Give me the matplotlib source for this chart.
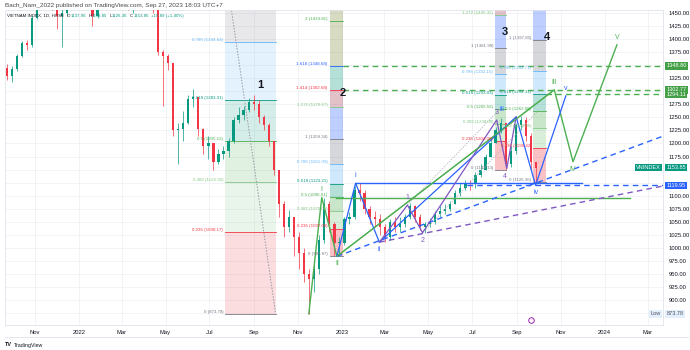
import matplotlib
matplotlib.use("Agg")
import matplotlib.pyplot as plt
import matplotlib.dates as mdates
import numpy as np
import pandas as pd
from matplotlib.patches import Rectangle
from matplotlib.lines import Line2D

plt.rcParams['font.family'] = ['Liberation Sans', 'DejaVu Sans']

# weekly bars of VN-Index, Sep 2021 - Sep 2023
week_start = pd.date_range("2021-09-20", periods=106, freq="W-MON")
first_open = 1345
close = [1330, 1342, 1368, 1392, 1388, 1440,
         1465, 1475, 1480, 1470, 1445, 1450,
         1470, 1480, 1495, 1525, 1475, 1445,
         1480, 1485, 1500, 1505, 1495, 1490,
         1470, 1480, 1495, 1500, 1505, 1458,
         1375, 1368, 1355, 1225, 1228, 1240,
         1285, 1290, 1228, 1195, 1200, 1165,
         1180, 1185, 1205, 1245, 1255, 1265,
         1280, 1275, 1250, 1235, 1205, 1150,
         1085, 1040, 1060, 1020, 990, 950,
         940, 960, 1015, 1085, 1045, 1010,
         1010, 1055, 1060, 1110, 1105, 1075,
         1060, 1055, 1040, 1020, 1050, 1040,
         1045, 1060, 1080, 1060, 1040, 1045,
         1050, 1065, 1070, 1075, 1085, 1105,
         1115, 1125, 1122, 1140, 1150, 1175,
         1200, 1225, 1240, 1160, 1185, 1235,
         1245, 1215, 1165, 1153.85]
high = [1352, 1348, 1372, 1396, 1398, 1445,
        1472, 1485, 1495, 1490, 1475, 1460,
        1478, 1490, 1500, 1530, 1525, 1480,
        1485, 1490, 1505, 1510, 1510, 1500,
        1495, 1490, 1505, 1510, 1525, 1505,
        1460, 1380, 1372, 1355, 1240, 1262,
        1292, 1305, 1290, 1230, 1215, 1200,
        1190, 1195, 1210, 1250, 1270, 1272,
        1288, 1292, 1283, 1255, 1240, 1205,
        1150, 1090, 1073, 1060, 1030, 1000,
        960, 975, 1025, 1096, 1090, 1050,
        1020, 1060, 1068, 1118, 1124, 1110,
        1080, 1070, 1065, 1045, 1055, 1060,
        1060, 1065, 1086, 1082, 1065, 1050,
        1058, 1070, 1080, 1085, 1090, 1110,
        1125, 1130, 1130, 1145, 1160, 1180,
        1210, 1232, 1248, 1240, 1195, 1240,
        1252, 1250, 1220, 1165]
low = [1322, 1318, 1338, 1366, 1380, 1385,
       1438, 1460, 1465, 1455, 1420, 1385,
       1445, 1460, 1475, 1490, 1465, 1425,
       1440, 1470, 1480, 1490, 1480, 1470,
       1455, 1450, 1475, 1485, 1480, 1450,
       1370, 1272, 1340, 1215, 1160, 1205,
       1238, 1270, 1215, 1180, 1170, 1150,
       1160, 1170, 1175, 1200, 1240, 1245,
       1260, 1265, 1240, 1225, 1195, 1140,
       1060, 1020, 1030, 985, 960, 935,
       873.78, 915, 950, 1010, 1030, 985,
       983.87, 1005, 1045, 1055, 1090, 1065,
       1045, 1040, 1025, 1011, 1015, 1030,
       1030, 1040, 1055, 1050, 1035, 1028,
       1040, 1045, 1060, 1065, 1070, 1085,
       1100, 1110, 1110, 1115, 1135, 1150,
       1175, 1200, 1220, 1150, 1155, 1180,
       1225, 1205, 1150, 1126.36]

# fibonacci retracement / extension tools
fib_start = ["2022-07-23", "2022-12-15", "2023-08-02", "2023-09-24"]
fib_end = ["2022-10-01", "2023-01-02", "2023-08-17", "2023-10-11"]
fib_zero = [873.78, 983.87, 1149.13, 1126.36]
fib_one = [1536.45, 1209.34, 1381.98, 1397.80]
fib_levels = [
    [0, 0.236, 0.382, 0.5, 0.618, 0.786, 1],
    [0, 0.236, 0.382, 0.5, 0.618, 0.786, 1, 1.272, 1.414, 1.618, 2, 2.618],
    [0, 0.236, 0.382, 0.5, 0.618, 0.786, 1, 1.272, 1.414],
    [0, 0.236, 0.382, 0.5, 0.618, 0.786, 1, 1.272, 1.414],
]
fib_alpha = [0.17, 0.3, 0.3, 0.3]
fib_tags = ["1", "2", "3", "4"]
tag_dates = ["2022-09-09", "2023-01-02", "2023-08-15", "2023-10-13"]
tag_prices = [1312, 1297, 1414, 1404]

level_color = {0: '#787b86', 0.236: '#f23645', 0.382: '#81c784', 0.5: '#4caf50',
               0.618: '#089981', 0.786: '#64b5f6', 1: '#787b86', 1.272: '#81c784',
               1.414: '#f23645', 1.618: '#2962ff', 2: '#4caf50', 2.618: '#f23645'}
band_color = {0.236: '#f23645', 0.382: '#81c784', 0.5: '#4caf50', 0.618: '#089981',
              0.786: '#64b5f6', 1: '#787b86', 1.272: '#2962ff', 1.414: '#a3324e',
              1.618: '#089981', 2: '#7d8a33', 2.618: '#7d8a33'}

# elliott wave counts
green_dates = ["2022-11-16", "2022-12-04", "2022-12-25", "2023-10-23", "2023-11-18", "2024-01-18"]
green_prices = [873.78, 1096.51, 983.87, 1302.77, 1165, 1389]
green_tags = ["", "I", "II", "III", "IV", "V"]
blue_dates = ["2022-12-25", "2023-01-20", "2023-02-22", "2023-08-31", "2023-09-27", "2023-11-08"]
blue_prices = [983.87, 1124, 1011, 1251, 1120, 1291]
blue_tags = ["", "i", "ii", "iii", "iv", "v"]
purple_dates = ["2023-02-22", "2023-04-02", "2023-04-23", "2023-08-04", "2023-08-18", "2023-08-31"]
purple_prices = [1011, 1082, 1029, 1245, 1152, 1251]
purple_tags = ["", "1", "2", "3", "4", ""]

# support / resistance levels
hline_price = [1348.80, 1302.77, 1294.11, 1119.95, 1124, 1096.51]
hline_from = ["2023-01-02", "2023-01-02", "2023-10-11", "2023-06-24", "2023-01-20", "2022-12-24"]
hline_to = ["2024-03-22", "2024-03-22", "2024-03-22", "2024-03-22", "2023-12-01", "2024-02-05"]
hline_color = ['#4caf50', '#4caf50', '#4caf50', '#2962ff', '#2962ff', '#4caf50']
hline_dashed = [True, True, True, True, False, False]

# rising trend lines
trend_from = [("2022-12-25", 983.87), ("2023-02-22", 1011)]
trend_to = [("2024-03-22", 1214), ("2024-03-22", 1118.6)]
trend_color = ['#2962ff', '#7e57c2']

dotted_from = [("2023-04-02", 1082), ("2023-04-23", 1029)]
dotted_to = [("2023-08-10", 1268), ("2023-09-30", 1262)]

tick_dates = ["2021-11-01", "2022-01-01", "2022-03-01", "2022-05-01", "2022-07-01",
              "2022-09-01", "2022-11-01", "2023-01-01", "2023-03-01", "2023-05-01",
              "2023-07-01", "2023-09-01", "2023-11-01", "2024-01-01", "2024-03-01"]
tick_labels = ["Nov", "2022", "Mar", "May", "Jul", "Sep", "Nov", "2023", "Mar",
               "May", "Jul", "Sep", "Nov", "2024", "Mar"]
price_ticks = np.arange(875, 1451, 25)
# scale labels hidden behind the coloured price tags
hidden_ticks = [875, 1125, 1150, 1300, 1350]

UP, DOWN = '#089981', '#f23645'


def d(s):
    return mdates.date2num(pd.Timestamp(s))


fig = plt.figure(figsize=(6.9, 3.5), dpi=100)
ax = fig.add_axes([5 / 690, 25 / 350, 658 / 690, 315 / 350])
ax.set_xlim(d("2021-09-20"), d("2024-03-22"))
ax.set_ylim(852.3, 1455.7)

# candles
x = mdates.date2num(week_start) + 2.5
opens = np.array([first_open] + close[:-1], dtype=float)
closes = np.array(close, dtype=float)
colors = [UP if c >= o else DOWN for o, c in zip(opens, closes)]
ax.vlines(x, low, high, colors=colors, lw=0.5, zorder=3)
ax.bar(x, np.maximum(np.abs(closes - opens), 1.5), bottom=np.minimum(opens, closes),
       width=3.2, color=colors, zorder=3, linewidth=0)

# fib tools
for i in range(4):
    x0, x1 = d(fib_start[i]), d(fib_end[i])
    p0, p1 = fib_zero[i], fib_one[i]
    lv = fib_levels[i]
    prices = [p0 + l * (p1 - p0) for l in lv]
    for j in range(1, len(lv)):
        ax.add_patch(Rectangle((x0, prices[j - 1]), x1 - x0, prices[j] - prices[j - 1],
                               facecolor=band_color[lv[j]], alpha=fib_alpha[i],
                               lw=0, zorder=1))
    for l, p in zip(lv, prices):
        ax.plot([x0, x1], [p, p], color=level_color[l], lw=0.6, zorder=2)
        if p < 1452:
            ax.annotate(f"{l:g} ({p:.2f})", (x0, p), xytext=(-1.5, 1.5),
                        textcoords='offset points', ha='right', va='center',
                        fontsize=3.2, color=level_color[l], zorder=6)
    ax.text(d(tag_dates[i]), tag_prices[i], fib_tags[i], fontsize=8,
            fontweight='bold', ha='center', va='center', color='#131722', zorder=7)

# fib 1 trend line
ax.plot([d(fib_start[0]), d(fib_end[0])], [fib_one[0], fib_zero[0]],
        color='#9598a1', lw=0.7, ls=(0, (1.5, 1.5)), zorder=2)
for (a, pa), (b, pb) in zip(dotted_from, dotted_to):
    ax.plot([d(a), d(b)], [pa, pb], color='#b2b5be', lw=0.6, ls=(0, (1.5, 1.5)), zorder=4)

# horizontal levels
for p, a, b, c, dash in zip(hline_price, hline_from, hline_to, hline_color, hline_dashed):
    ax.plot([d(a), d(b)], [p, p], color=c, lw=1.0, zorder=4,
            ls=(0, (4, 3)) if dash else '-')

for (a, pa), (b, pb), c in zip(trend_from, trend_to, trend_color):
    ax.plot([d(a), d(b)], [pa, pb], color=c, lw=1.0, ls=(0, (4, 3)), zorder=4)

# wave paths and labels
waves = [(green_dates, green_prices, green_tags, '#4caf50', 1.0),
         (blue_dates, blue_prices, blue_tags, '#2962ff', 0.9),
         (purple_dates, purple_prices, purple_tags, '#7e57c2', 0.9)]
label_shift = {"iii": (-10, 5), "4": (-1.5, -6)}
for dates, prices, tags, c, w in waves:
    xs = [d(s) for s in dates]
    ax.plot(xs, prices, color=c, lw=w, zorder=5)
    for k, (xx, p, t) in enumerate(zip(xs, prices, tags)):
        if not t:
            continue
        up = k == 0 or p > prices[k - 1]
        off = label_shift.get(t, (0, 5.5 if up else -5.5))
        ax.annotate(t, (xx, p), xytext=off, textcoords='offset points',
                    ha='center', va='center', fontsize=5, color=c, zorder=7)

# green line II -> III
ax.plot([d(green_dates[2]), d(green_dates[3])], [green_prices[2], green_prices[3]],
        color='#4caf50', lw=0.7, zorder=5)

# earnings marker
ax.plot(d("2023-09-21"), 862, marker='o', ms=4, mfc='white', mec='#9c27b0', mew=0.7,
        zorder=6, clip_on=False)
ax.text(d("2023-09-21"), 862, "↑", fontsize=3, color='#9c27b0', ha='center', va='center',
        zorder=7)

# axes styling
ax.yaxis.tick_right()
ax.set_yticks(price_ticks)
ax.set_yticklabels(["" if v in hidden_ticks else f"{v:.2f}" for v in price_ticks])
ax.set_xticks([d(s) for s in tick_dates])
ax.set_xticklabels(tick_labels)
ax.tick_params(axis='y', length=0, pad=4, labelsize=4.2, colors='#131722')
ax.tick_params(axis='x', length=0, pad=3.5, labelsize=4.2, colors='#131722')
ax.grid(color='#eff1f5', lw=0.6, zorder=0)
ax.set_axisbelow(True)
for s in ax.spines.values():
    s.set_color('#e0e3eb')
    s.set_linewidth(0.6)

# price scale labels
scale_tags = [(1348.80, '1348.80', '#43a047', 'white'),
              (1302.77, '1302.77', '#43a047', 'white'),
              (1294.11, '1294.11', '#43a047', 'white'),
              (1153.85, '1153.85', '#089981', 'white'),
              (1119.95, '1119.95', '#2962ff', 'white'),
              (873.78, '873.78', '#e3effd', '#50535e')]
for p, s, fc, tc in scale_tags:
    ax.annotate(s, (1, p), xycoords=('axes fraction', 'data'), xytext=(2.5, 0),
                textcoords='offset points', ha='left', va='center', fontsize=4,
                color=tc, annotation_clip=False,
                bbox=dict(boxstyle='square,pad=0.22', fc=fc, ec='none'))
ax.annotate("VNINDEX", (1, 1153.85), xycoords=('axes fraction', 'data'), xytext=(-1.5, 0),
            textcoords='offset points', ha='right', va='center', fontsize=4, color='white',
            bbox=dict(boxstyle='square,pad=0.22', fc='#089981', ec='none'))
ax.annotate("Low", (1, 873.78), xycoords=('axes fraction', 'data'), xytext=(-1.5, 0),
            textcoords='offset points', ha='right', va='center', fontsize=4, color='#50535e',
            bbox=dict(boxstyle='square,pad=0.22', fc='#e3effd', ec='none'))

# header
fig.text(5 / 690, 1 - 5 / 350, "Bach_Nam_2022 published on TradingView.com, Sep 27, 2023 18:03 UTC+7",
         fontsize=4.6, color='#4a4a4a', va='center')
renderer = fig.canvas.get_renderer()
hx = 7 / 690
pieces = [("VIETNAM INDEX, 1D, HOSE", '#131722', 3), ("O", '#131722', 0), ("1137.96", UP, 2.5),
          ("H", '#131722', 0), ("1153.85", UP, 2.5), ("L", '#131722', 0), ("1126.36", UP, 2.5),
          ("C", '#131722', 0), ("1153.85", UP, 2.5), ("+15.89 (+1.40%)", UP, 0)]
for s, c, gap in pieces:
    t = fig.text(hx, 1 - 16 / 350, s, fontsize=3.2, color=c, va='center')
    hx += (t.get_window_extent(renderer=renderer).width + gap) / fig.bbox.width

fig.add_artist(Line2D([5 / 690, 688 / 690], [13 / 350, 13 / 350], color='#e0e3eb', lw=0.6))
fig.text(5 / 690, 5 / 350, "TV", fontsize=4, fontweight='bold', color='#131722', va='center')
fig.text(14 / 690, 5 / 350, "TradingView", fontsize=3.8, color='#131722', va='center')

fig.savefig("out.png", dpi=100)
